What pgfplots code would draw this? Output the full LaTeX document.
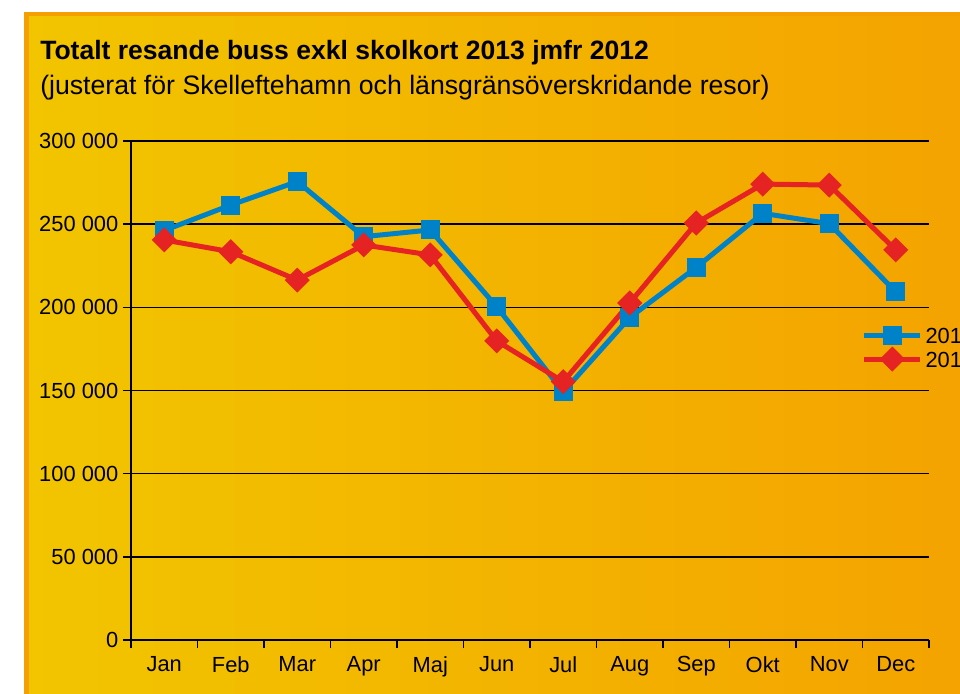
\documentclass[border=0pt]{standalone}
\usepackage{pgfplots}
\pgfplotsset{compat=1.18}
\usepackage{fontspec}
\setmainfont{Liberation Sans}
\definecolor{bord}{RGB}{245,160,0}
\definecolor{yl}{RGB}{242,197,0}
\definecolor{orr}{RGB}{244,162,0}
\definecolor{blu}{RGB}{0,130,200}
\definecolor{rd}{RGB}{228,35,34}
\begin{document}
\begin{tikzpicture}[x=0.75pt,y=0.75pt]
\useasboundingbox (0,0) rectangle (960,693);
\clip (0,0) rectangle (960,693);
\fill[white] (0,0) rectangle (960,693);
\fill[bord] (24,-20) rectangle (990,681);
\shade[left color=yl, right color=orr] (29,-20) rectangle (990,676);
\node[anchor=base west, inner sep=0pt, font=\fontsize{19.9}{23}\selectfont\bfseries] at (40,633) {Totalt resande buss exkl skolkort 2013 jmfr 2012};
\node[anchor=base west, inner sep=0pt, font=\fontsize{20}{24}\selectfont] at (40,598.5) {(justerat för Skelleftehamn och länsgränsöverskridande resor)};
\begin{axis}[
  at={(98.25pt,39.75pt)}, anchor=south west,
  scale only axis, width=598.5pt, height=374.25pt,
  xmin=0, xmax=12, ymin=0, ymax=300000,
  axis x line=bottom, axis y line=left,
  axis line style={-, black, line width=1.1pt},
  clip=false,
  tick align=outside,
  major tick length=6pt, minor tick length=6pt,
  xtick={0.5,1.5,2.5,3.5,4.5,5.5,6.5,7.5,8.5,9.5,10.5,11.5},
  xticklabels={Jan,Feb,Mar,Apr,Maj,Jun,Jul,Aug,Sep,Okt,Nov,Dec},
  minor xtick={0,1,2,3,4,5,6,7,8,9,10,11,12},
  major x tick style={draw=none},
  minor x tick style={black, line width=1.1pt},
  ytick={0,50000,100000,150000,200000,250000,300000},
  yticklabels={0,50 000,100 000,150 000,200 000,250 000,300 000},
  scaled y ticks=false,
  y tick style={black, line width=1.1pt},
  ymajorgrids,
  major grid style={black, line width=1.1pt},
  ticklabel style={font=\fontsize{16.4}{19}\selectfont, text=black},
  xticklabel style={yshift=-3pt},
  legend image code/.code={\draw[mark repeat=2,mark phase=2,#1] plot coordinates {(0pt,0pt) (21pt,0pt) (42pt,0pt)};},
  legend style={at={(0.9155,0.587)}, anchor=west, draw=none, fill=none, inner sep=0pt,
    font=\fontsize{16.4}{19}\selectfont, legend cell align=left, row sep=2pt,
    nodes={inner sep=0pt, text depth=2pt, text height=14pt}, column sep=2pt},
]
\addplot[blu, line width=3.75pt, mark=square*, mark size=5.25pt, mark options={solid}] coordinates {
(0.5,246200) (1.5,261500) (2.5,275600) (3.5,242500) (4.5,246500) (5.5,200300)
(6.5,149200) (7.5,193900) (8.5,224000) (9.5,256500) (10.5,250300) (11.5,209300)};
\addlegendentry{2012}
\addplot[rd, line width=3.75pt, mark=square*, mark size=4.77pt, mark options={solid, rotate=45}] coordinates {
(0.5,240500) (1.5,233400) (2.5,216400) (3.5,237500) (4.5,231500) (5.5,179800)
(6.5,155300) (7.5,202600) (8.5,250700) (9.5,274100) (10.5,273500) (11.5,234500)};
\addlegendentry{2013}
\end{axis}
\end{tikzpicture}
\end{document}
